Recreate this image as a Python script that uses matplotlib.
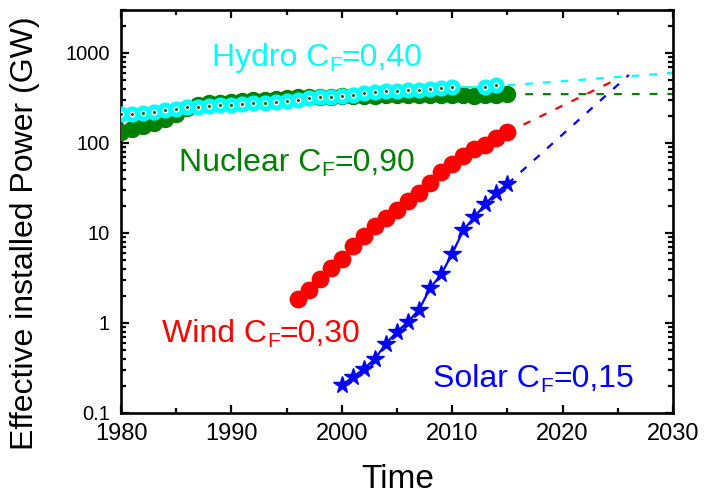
import matplotlib
matplotlib.use("Agg")
import matplotlib.pyplot as plt
from matplotlib.transforms import IdentityTransform
from matplotlib.ticker import LogLocator, FixedLocator, NullFormatter, FuncFormatter

plt.rcParams['font.family'] = ['Liberation Sans', 'DejaVu Sans']

# --- effective installed power (GW) = installed capacity x capacity factor ---
hydro_years = list(range(1980, 2011)) + [2013, 2014]
hydro_gw = [209, 212, 215, 218, 230, 241, 248, 253, 259, 262,
            266, 270, 275, 281, 287, 295, 303, 312, 320, 328,
            336, 345, 355, 365, 375, 380, 385, 390, 395, 405,
            420, 415, 445]

nuclear_years = list(range(1980, 2016))
nuclear_gw = [131, 143, 155, 165, 184, 212, 245, 262, 275, 280,
              285, 292, 298, 303, 310, 315, 320, 323, 325, 328,
              330, 333, 335, 336, 340, 342, 343, 342, 342, 342,
              345, 340, 335, 338, 342, 348]

wind_years = list(range(1996, 2016))
wind_gw = [1.83, 2.3, 3.1, 4.1, 5.2, 7.2, 9.3, 12, 14.5, 18,
           22.5, 28, 36, 47, 59, 71, 85, 96, 113, 131]

solar_years = list(range(2000, 2016))
solar_gw = [0.204, 0.25, 0.31, 0.40, 0.59, 0.80, 1.03, 1.41,
            2.44, 3.47, 5.9, 10.7, 15, 21, 28, 35]

# projected trends (start year/value, end year/value)
hydro_proj_x, hydro_proj_y = [2015, 2030], [437, 600]
nuclear_proj_x, nuclear_proj_y = [2015, 2030], [348, 350]
wind_proj_x, wind_proj_y = [2015, 2024.4], [131, 475]
solar_proj_x, solar_proj_y = [2015, 2026], [35, 570]

# capacity factor labels: (name, capacity factor text, x, y baseline)
labels = [
    ('Hydro', '0,40', 1988.2, 718),
    ('Nuclear', '0,90', 1985.25, 49.3),
    ('Wind', '0,30', 1983.7, 0.612),
    ('Solar', '0,15', 2008.3, 0.194),
]

GREEN = '#008000'
CYAN = '#00ffff'
RED = '#ff0000'
BLUE = '#0000ff'
label_colors = [CYAN, GREEN, RED, BLUE]

fig = plt.figure(figsize=(7.04, 4.98), dpi=100)
ax = fig.add_axes([0.1719, 0.1707, 0.7841, 0.8092])

dash = dict(ls=(0, (3.5, 4.5)), lw=1.6)
ax.plot(nuclear_proj_x, nuclear_proj_y, color=GREEN, zorder=2, **dash)
ax.plot(hydro_proj_x, hydro_proj_y, color=CYAN, zorder=2, **dash)
ax.plot(wind_proj_x, wind_proj_y, color=RED, zorder=2, **dash)
ax.plot(solar_proj_x, solar_proj_y, color=BLUE, zorder=2, **dash)

ax.plot(nuclear_years, nuclear_gw, ls='none', marker='o', ms=11.5,
        color=GREEN, mec=GREEN, zorder=3)
ax.plot(hydro_years, hydro_gw, ls='-', lw=1.5, color=CYAN, marker='o', ms=8,
        mfc='white', mec=CYAN, mew=3.6, zorder=4)
ax.plot(hydro_years, hydro_gw, ls='none', marker='o', ms=2.2,
        color='#006a00', mec='none', zorder=5)
ax.plot(wind_years, wind_gw, ls='none', marker='o', ms=11.8,
        color=RED, mec=RED, zorder=3)
ax.plot(solar_years, solar_gw, ls='-', lw=1.6, color=BLUE, marker='*',
        ms=13, mec=BLUE, zorder=3)

ax.set_yscale('log')
ax.set_xlim(1980, 2030)
ax.set_ylim(0.1, 3000)

ax.xaxis.set_major_locator(FixedLocator(range(1980, 2031, 10)))
ax.xaxis.set_minor_locator(FixedLocator(range(1985, 2030, 10)))
ax.yaxis.set_major_locator(LogLocator(base=10, numticks=10))
ax.yaxis.set_minor_locator(LogLocator(base=10, subs=range(2, 10), numticks=50))
ax.yaxis.set_minor_formatter(NullFormatter())
ax.yaxis.set_major_formatter(FuncFormatter(lambda v, p: f'{v:g}'))

for s in ax.spines.values():
    s.set_linewidth(1.9)
ax.tick_params(which='both', direction='in', top=True, right=True, width=1.6)
ax.tick_params(which='major', length=6)
ax.tick_params(which='minor', length=3.5)
ax.tick_params(axis='y', which='major', labelsize=14.5, pad=8)
ax.tick_params(axis='x', which='major', labelsize=17, pad=7)

ax.set_xlabel('Time', fontsize=24)
ax.xaxis.set_label_coords(0.502, -0.127)
ax.set_ylabel('Effective installed Power (GW)', fontsize=23)
ax.yaxis.set_label_coords(-0.147, 0.447)

# labels with a lowered, smaller subscript F
renderer = fig.canvas.get_renderer()
for (name, cf, x, y), col in zip(labels, label_colors):
    px, py = ax.transData.transform((x, y))
    t1 = ax.text(px, py, f'{name} C', color=col, fontsize=23, ha='left',
                 va='baseline', transform=IdentityTransform())
    x1 = t1.get_window_extent(renderer).x1
    t2 = ax.text(x1, py - 5, 'F', color=col, fontsize=15, ha='left',
                 va='baseline', transform=IdentityTransform())
    x2 = t2.get_window_extent(renderer).x1
    ax.text(x2, py, f'={cf}', color=col, fontsize=23, ha='left',
            va='baseline', transform=IdentityTransform())

fig.savefig('out.png', dpi=100)
